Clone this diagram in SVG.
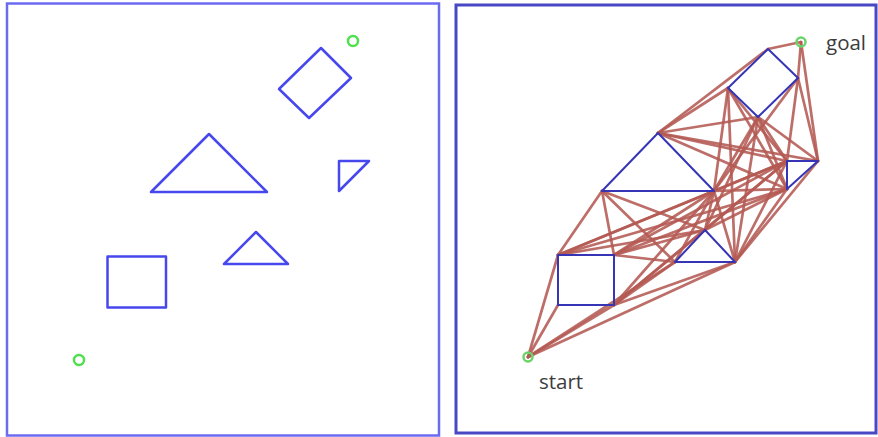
<svg xmlns="http://www.w3.org/2000/svg" width="878" height="437" viewBox="0 0 878 437">
<style>
.frameL{fill:none;stroke:#6b6bf2;stroke-width:2.5}
.frameR{fill:none;stroke:#4848c4;stroke-width:3}
.obsL{fill:none;stroke:#4747ee;stroke-width:2.5;stroke-linejoin:round}
.obsR{fill:none;stroke:#3535b5;stroke-width:2;stroke-linejoin:round}
.pt{fill:none;stroke:#4ee04e;stroke-width:2.5}
.ptR{fill:none;stroke:#6ad46a;stroke-width:2.5}
.edge{stroke:#b45a53;stroke-width:2.7;stroke-opacity:0.88;stroke-linecap:round}
.lbl{font-family:"Open Sans","Liberation Sans",sans-serif;font-size:20.5px;fill:#3c3c3c}
</style>
<rect width="878" height="437" fill="#ffffff"/>
<g id="left-panel">
<rect class="frameL" x="7" y="3.5" width="432" height="432"/>
<g id="L-rotsquare"><polygon class="obsL" points="321,48 351,78 309,118 279,89"/></g>
<g id="L-bigtri"><polygon class="obsL" points="209,134 151,192 267,192"/></g>
<g id="L-righttri"><polygon class="obsL" points="339,161 369,161 339,191"/></g>
<g id="L-smalltri"><polygon class="obsL" points="256,232 224,264 288,264"/></g>
<g id="L-square"><rect class="obsL" x="107.5" y="256.5" width="58.5" height="51"/></g>
<g id="L-goal"><circle class="pt" cx="353" cy="41" r="5"/></g>
<g id="L-start"><circle class="pt" cx="79" cy="360" r="5"/></g>
</g>
<g id="right-panel">
<rect class="frameR" x="456" y="5" width="420" height="428"/>
<g id="connectors">
<line class="edge" x1="528" y1="357" x2="558" y2="255"/>
<line class="edge" x1="528" y1="357" x2="558" y2="305"/>
<line class="edge" x1="528" y1="357" x2="614" y2="305"/>
<line class="edge" x1="528" y1="357" x2="675" y2="262"/>
<line class="edge" x1="528" y1="357" x2="735" y2="262"/>
<line class="edge" x1="558" y1="255" x2="602" y2="191"/>
<line class="edge" x1="558" y1="255" x2="714" y2="191"/>
<line class="edge" x1="558" y1="255" x2="705" y2="230"/>
<line class="edge" x1="558" y1="255" x2="787" y2="161"/>
<line class="edge" x1="558" y1="255" x2="787" y2="189"/>
<line class="edge" x1="614" y1="255" x2="602" y2="191"/>
<line class="edge" x1="614" y1="255" x2="714" y2="191"/>
<line class="edge" x1="614" y1="255" x2="705" y2="230"/>
<line class="edge" x1="614" y1="255" x2="675" y2="262"/>
<line class="edge" x1="614" y1="255" x2="787" y2="161"/>
<line class="edge" x1="614" y1="255" x2="787" y2="189"/>
<line class="edge" x1="614" y1="305" x2="705" y2="230"/>
<line class="edge" x1="614" y1="305" x2="675" y2="262"/>
<line class="edge" x1="614" y1="305" x2="735" y2="262"/>
<line class="edge" x1="614" y1="305" x2="714" y2="191"/>
<line class="edge" x1="614" y1="305" x2="787" y2="161"/>
<line class="edge" x1="602" y1="191" x2="705" y2="230"/>
<line class="edge" x1="602" y1="191" x2="675" y2="262"/>
<line class="edge" x1="658" y1="133" x2="728" y2="88"/>
<line class="edge" x1="658" y1="133" x2="758" y2="117"/>
<line class="edge" x1="658" y1="133" x2="768" y2="49"/>
<line class="edge" x1="658" y1="133" x2="787" y2="161"/>
<line class="edge" x1="658" y1="133" x2="818" y2="161"/>
<line class="edge" x1="658" y1="133" x2="787" y2="189"/>
<line class="edge" x1="714" y1="191" x2="705" y2="230"/>
<line class="edge" x1="714" y1="191" x2="675" y2="262"/>
<line class="edge" x1="714" y1="191" x2="735" y2="262"/>
<line class="edge" x1="714" y1="191" x2="758" y2="117"/>
<line class="edge" x1="714" y1="191" x2="728" y2="88"/>
<line class="edge" x1="714" y1="191" x2="798" y2="78"/>
<line class="edge" x1="714" y1="191" x2="787" y2="161"/>
<line class="edge" x1="714" y1="191" x2="787" y2="189"/>
<line class="edge" x1="705" y1="230" x2="787" y2="161"/>
<line class="edge" x1="705" y1="230" x2="787" y2="189"/>
<line class="edge" x1="705" y1="230" x2="758" y2="117"/>
<line class="edge" x1="735" y1="262" x2="787" y2="161"/>
<line class="edge" x1="735" y1="262" x2="818" y2="161"/>
<line class="edge" x1="735" y1="262" x2="787" y2="189"/>
<line class="edge" x1="735" y1="262" x2="758" y2="117"/>
<line class="edge" x1="735" y1="262" x2="728" y2="88"/>
<line class="edge" x1="728" y1="88" x2="787" y2="161"/>
<line class="edge" x1="728" y1="88" x2="787" y2="189"/>
<line class="edge" x1="758" y1="117" x2="787" y2="161"/>
<line class="edge" x1="758" y1="117" x2="818" y2="161"/>
<line class="edge" x1="758" y1="117" x2="787" y2="189"/>
<line class="edge" x1="798" y1="78" x2="787" y2="161"/>
<line class="edge" x1="798" y1="78" x2="818" y2="161"/>
<line class="edge" x1="798" y1="78" x2="801" y2="42"/>
<line class="edge" x1="768" y1="49" x2="801" y2="42"/>
<line class="edge" x1="818" y1="161" x2="801" y2="42"/>
</g>
<g id="R-rotsquare"><polygon class="obsR" points="768,49 798,78 758,117 728,88"/></g>
<g id="R-bigtri"><polygon class="obsR" points="658,133 602,191 714,191"/></g>
<g id="R-righttri"><polygon class="obsR" points="787,161 818,161 787,189"/></g>
<g id="R-smalltri"><polygon class="obsR" points="705,230 675,262 735,262"/></g>
<g id="R-square"><rect class="obsR" x="558" y="255" width="56" height="50"/></g>
<g id="R-goal"><circle class="ptR" cx="801" cy="42" r="4.5"/><text class="lbl" x="826" y="50">goal</text></g>
<g id="R-start"><circle class="ptR" cx="528" cy="357" r="4.5"/><text class="lbl" x="539" y="389">start</text></g>
</g>
</svg>
